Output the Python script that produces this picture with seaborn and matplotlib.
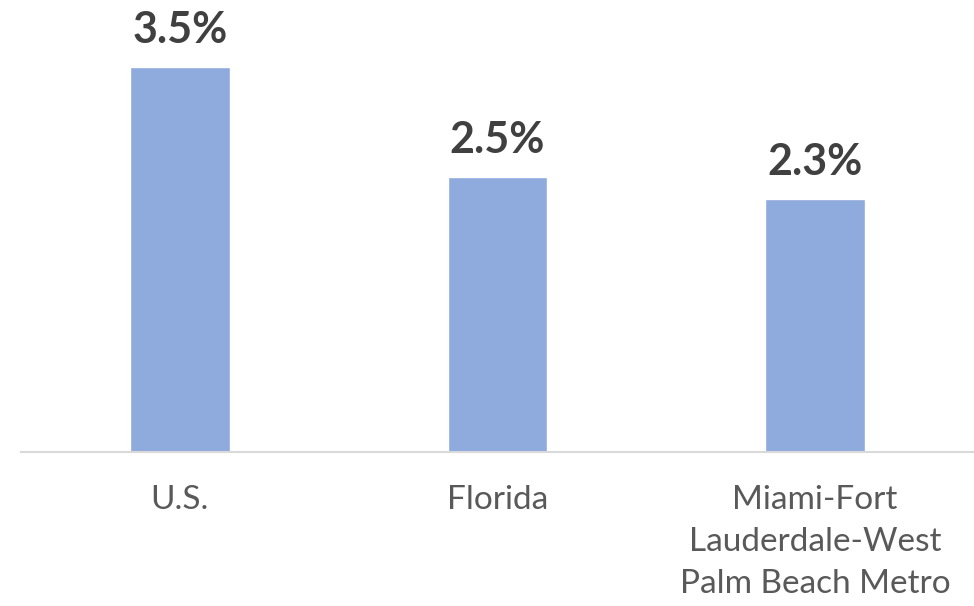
import matplotlib
matplotlib.use('Agg')
import matplotlib.pyplot as plt
import seaborn as sns
import pandas as pd

regions = ['U.S.', 'Florida', 'Miami-Fort\nLauderdale-West\nPalm Beach Metro']
growth = [3.5, 2.5, 2.3]
value_labels = ['3.5%', '2.5%', '2.3%']

df = pd.DataFrame({'region': regions, 'growth': growth})

sns.set_style('white')
plt.rcParams['font.family'] = ['Lato', 'DejaVu Sans']

fig = plt.figure(figsize=(9.74, 6.06), dpi=100)
ax = fig.add_axes([0.0216, 0.254, 0.9784, 440 / 606])
sns.barplot(data=df, x='region', y='growth', color='#8FAADC', saturation=1,
            width=0.314, ax=ax)
ax.set_xlim(-0.5, 2.5)
ax.set_ylim(0, 4)

for i, (v, lab) in enumerate(zip(growth, value_labels)):
    ax.annotate(lab, (i, v), xytext=(0, 12), textcoords='offset points',
                ha='center', va='bottom', fontsize=31, fontweight='bold',
                color='#404040')

sns.despine(ax=ax, left=True, top=True, right=True)
ax.spines['bottom'].set_color('#D9D9D9')
ax.spines['bottom'].set_linewidth(1.5)
ax.set_yticks([])
ax.set_xlabel('')
ax.set_ylabel('')
ax.tick_params(axis='x', length=0, pad=24, labelsize=24, labelcolor='#595959')
for t in ax.get_xticklabels():
    t.set_linespacing(1.5)
    t.set_verticalalignment('top')

fig.savefig('out.png', dpi=100)
